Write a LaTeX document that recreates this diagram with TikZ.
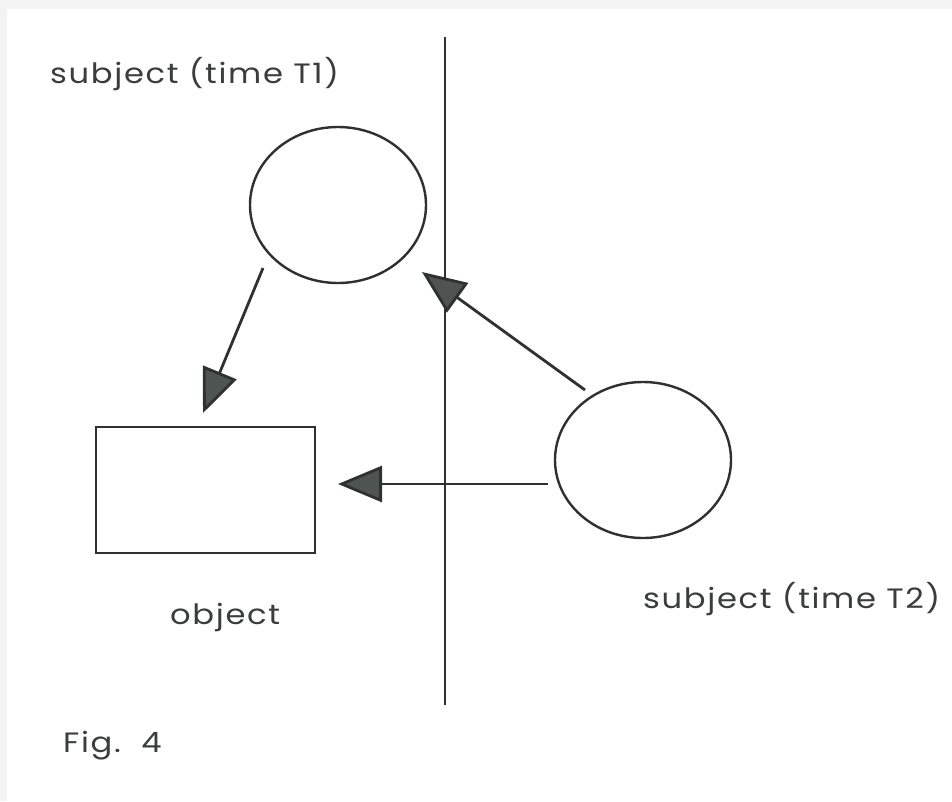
\documentclass[tikz,border=0pt]{standalone}
\usepackage{fontspec}
\setmainfont{Poppins}
\newfontfamily\labfont[FakeStretch=1.15,LetterSpace=6]{Poppins}
\usetikzlibrary{arrows.meta,shapes.geometric}
\definecolor{ink}{HTML}{2E3130}
\definecolor{headfill}{HTML}{4E5451}
\definecolor{txt}{HTML}{3A3D3C}
\definecolor{frame}{HTML}{F3F3F3}
\begin{document}
\begin{tikzpicture}[x=1pt,y=-1pt,
  subj/.style={draw=ink, line width=2.4pt, ellipse, minimum width=176pt, minimum height=156pt, inner sep=0pt},
  objbox/.style={draw=ink, line width=2.4pt, rectangle, minimum width=219pt, minimum height=126pt, inner sep=0pt},
  conn/.style={draw=ink, line width=2.8pt, -{Triangle[length=44pt,width=36pt,fill=headfill]}},
  lab/.style={text=txt, font=\labfont\fontsize{28}{32}\selectfont, inner sep=0pt, anchor=base west}]
\useasboundingbox (0,0) rectangle (952,801);
\fill[frame] (0,0) rectangle (952,801);
\fill[white] (7,9) rectangle (952,801);
% divider
\coordinate (vtop) at (445,37);
\coordinate (vbot) at (445,705);
\draw[ink, line width=2.6pt] (vtop) -- (vbot);
% shapes
\node[subj] (c1) at (338,205) {};
\node[subj] (c2) at (643,460) {};
\node[objbox] (obj) at (205.5,490) {};
% connector ends
\coordinate (a1s) at (263,268);
\coordinate (a1e) at (203,413);
\coordinate (a2s) at (585,390);
\coordinate (a2e) at (422,272);
\coordinate (a3s) at (548,484);
\coordinate (a3e) at (338,484);
\draw[conn] (a1s) -- (a1e);
\draw[conn] (a2s) -- (a2e);
\draw[conn] (a3s) -- (a3e);
% labels
\node[lab] (l1) at (50,83) {subject (time T1)};
\node[lab] (l2) at (643,608) {subject (time T2)};
\node[lab] (l3) at (170,624) {object};
\node[lab] (l4) at (63,752) {Fig.\ \ 4};
\end{tikzpicture}
\end{document}
